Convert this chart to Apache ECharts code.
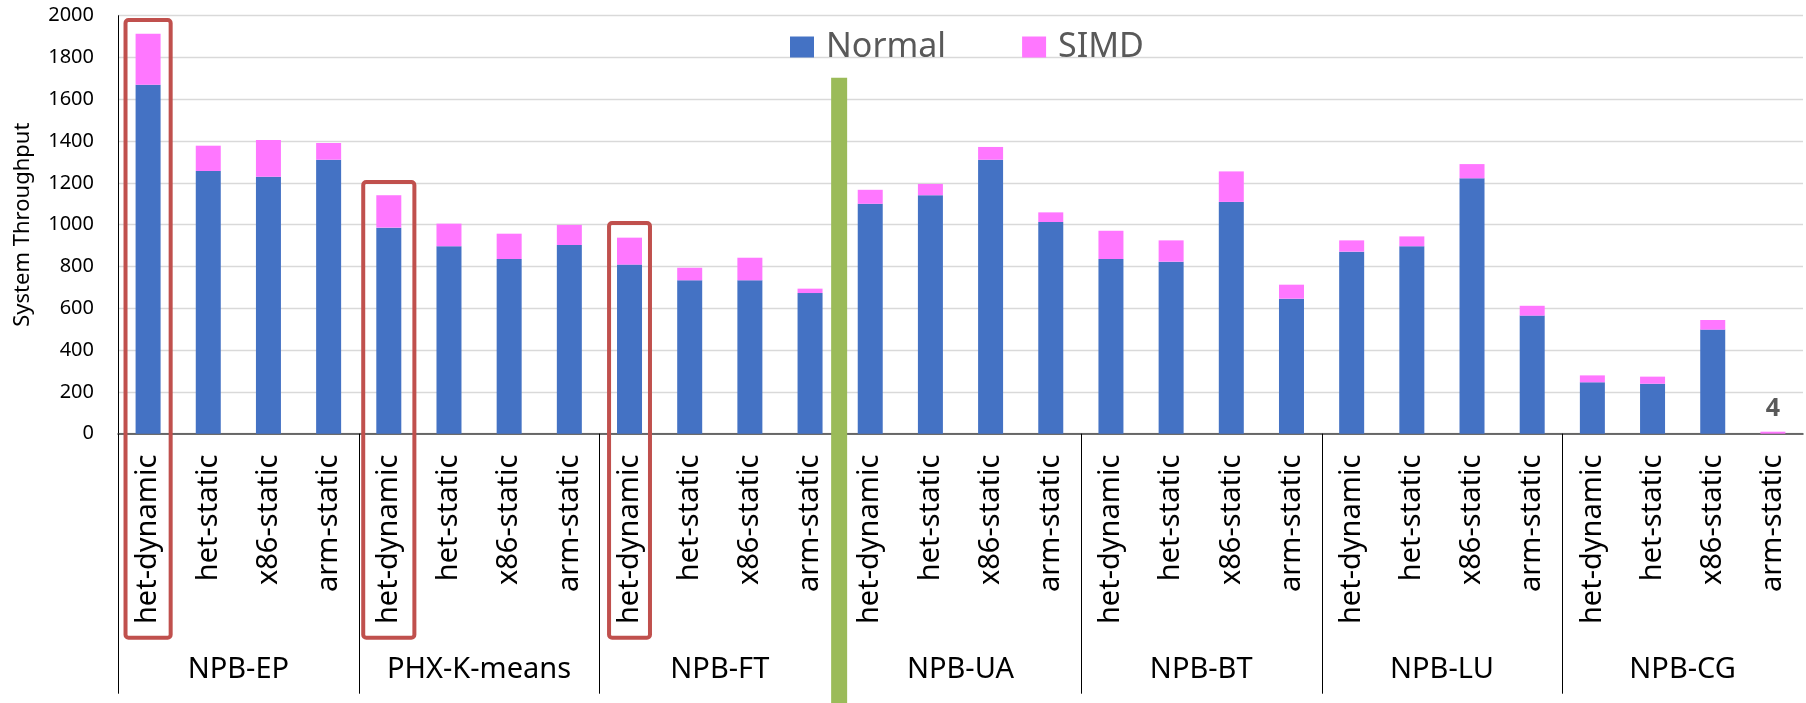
<!DOCTYPE html>
<html><head><meta charset="utf-8">
<script src="https://cdn.jsdelivr.net/npm/echarts@6/dist/echarts.min.js"></script>
<style>html,body{margin:0;padding:0;background:#fff}#c{width:1806px;height:703px}</style>
</head><body><div id="c"></div>
<script>
// ---- data ----
const groups = ['NPB-EP', 'PHX-K-means', 'NPB-FT', 'NPB-UA', 'NPB-BT', 'NPB-LU', 'NPB-CG'];
const configs = ['het-dynamic', 'het-static', 'x86-static', 'arm-static'];
const normal = [1670, 1257, 1230, 1311, 986, 897, 836, 903, 809, 734, 734, 673,
                1100, 1141, 1311, 1013, 836, 823, 1109, 646, 871, 897, 1222, 565,
                246, 239, 498, 0];
const simd = [244, 121, 175, 80, 155, 108, 121, 96, 129, 60, 108, 21,
              67, 54, 61, 46, 135, 102, 146, 67, 54, 47, 68, 47,
              33, 34, 46, 4];
const yTickValues = [0, 200, 400, 600, 800, 1000, 1200, 1400, 1600, 1800, 2000];
const labelledBars = [27];            // tiny bar whose value is written above it
const highlightCats = [0, 4, 8];      // red boxes around het-dynamic
const highlightTops = [1979, 1204, 1008];
const dividerAfterCat = 11;           // green divider between NPB-FT and NPB-UA
const dividerTop = 1703;

// ---- derived ----
const categories = [];
groups.forEach(g => configs.forEach(c => categories.push(g + '|' + c)));
const groupStarts = groups.map((g, i) => [i * configs.length, 0]);

const FONT = '"Noto Sans", sans-serif';
const boxWidthFrac = [0.75, 0.85, 0.68];

const chart = echarts.init(document.getElementById('c'), null, {renderer: 'canvas'});
chart.setOption({
  animation: false,
  backgroundColor: '#fff',
  textStyle: {fontFamily: FONT},
  grid: {left: 118, right: 3, top: 15.7, bottom: 269.3, containLabel: false},
  legend: {
    data: ['Normal', 'SIMD'], left: 785, top: 25, icon: 'rect',
    itemWidth: 24, itemHeight: 21, itemGap: 76,
    textStyle: {fontSize: 34, color: '#595959', fontFamily: FONT, padding: [0, 0, 0, 7]}
  },
  xAxis: [{
    type: 'category', data: categories, position: 'bottom',
    axisLine: {show: true, lineStyle: {color: '#404040', width: 1.5}},
    axisTick: {show: false},
    axisLabel: {interval: 0, rotate: 90, margin: 21, fontSize: 29, color: '#000',
      fontFamily: FONT, formatter: v => v.split('|')[1]},
    splitLine: {show: false}
  }, {
    type: 'category', data: groups, position: 'bottom', gridIndex: 0,
    axisLine: {show: false}, axisTick: {show: false},
    axisLabel: {interval: 0, margin: 222, fontSize: 29, color: '#000', fontFamily: FONT},
    splitLine: {show: false}
  }],
  yAxis: {
    type: 'value', min: yTickValues[0], max: yTickValues[yTickValues.length - 1],
    interval: yTickValues[1] - yTickValues[0],
    name: 'System Throughput', nameLocation: 'middle', nameGap: 84,
    nameTextStyle: {fontSize: 22, color: '#000', fontFamily: FONT},
    axisLine: {show: true, lineStyle: {color: '#000', width: 1}},
    axisTick: {show: false},
    axisLabel: {fontSize: 20, color: '#000', margin: 24, fontFamily: FONT,
      formatter: v => String(v)},
    splitLine: {show: true, lineStyle: {color: '#d9d9d9', width: 1.3}}
  },
  series: [{
    name: 'Normal', type: 'bar', stack: 'total', barWidth: 25,
    itemStyle: {color: '#4472C4'}, data: normal, z: 2
  }, {
    name: 'SIMD', type: 'bar', stack: 'total', barWidth: 25, barMinHeight: 2,
    itemStyle: {color: '#FF77FF'}, z: 2,
    data: simd.map((v, i) => labelledBars.includes(i)
      ? {value: v, label: {show: true, position: 'top', distance: 10, formatter: '{c}',
          fontSize: 25, fontWeight: 'bold', color: '#595959', fontFamily: FONT}}
      : v)
  }, {
    type: 'custom', name: 'separators', silent: true, clip: false, z: 3,
    data: groupStarts,
    renderItem: (params, api) => {
      const bw = api.size([1, 0])[0];
      const p = api.coord([api.value(0), 0]);
      const x = Math.round(p[0] - bw / 2) + 0.5;
      return {type: 'line', shape: {x1: x, y1: p[1], x2: x, y2: p[1] + 260},
        style: {stroke: '#000', lineWidth: 1}};
    }
  }, {
    type: 'custom', name: 'boxes', silent: true, clip: false, z: 6,
    data: highlightCats.map((c, i) => [c, highlightTops[i]]),
    renderItem: (params, api) => {
      const bw = api.size([1, 0])[0];
      const top = api.coord([api.value(0), api.value(1)]);
      const base = api.coord([api.value(0), 0]);
      const w = bw * boxWidthFrac[params.dataIndex];
      return {type: 'rect',
        shape: {x: top[0] - w / 2, y: top[1], width: w, height: base[1] + 204 - top[1], r: 3},
        style: {fill: 'none', stroke: '#C0504D', lineWidth: 4}};
    }
  }, {
    type: 'custom', name: 'divider', silent: true, clip: false, z: 7,
    data: [[dividerAfterCat, dividerTop]],
    renderItem: (params, api) => {
      const bw = api.size([1, 0])[0];
      const p = api.coord([api.value(0), api.value(1)]);
      const x = p[0] + bw / 2 - 1;
      return {type: 'rect', shape: {x: x - 8, y: p[1], width: 16, height: api.getHeight() - p[1]},
        style: {fill: '#9BBB59'}};
    }
  }]
});
</script></body></html>
